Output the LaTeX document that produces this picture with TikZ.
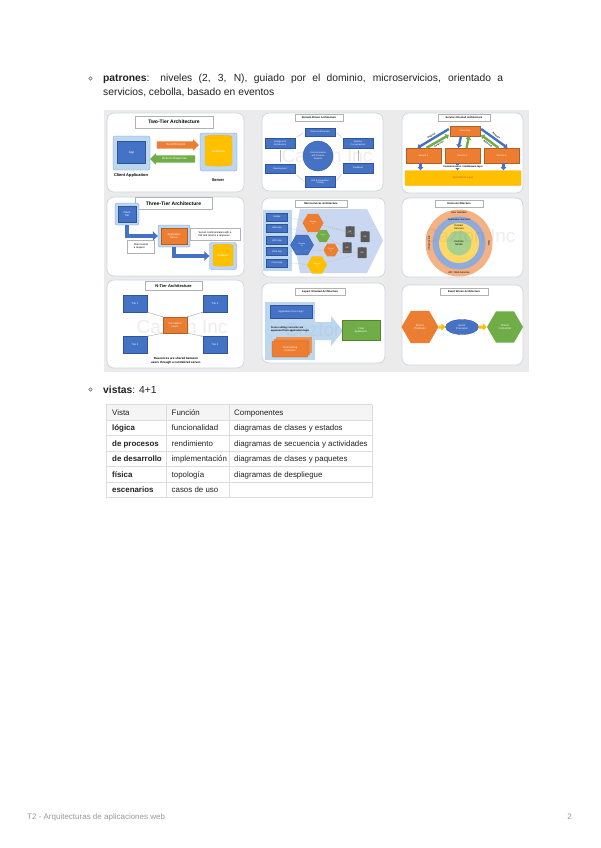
\documentclass[tikz,border=0pt]{standalone}
\usepackage{fontspec}
\setmainfont{Liberation Sans}
\usetikzlibrary{shapes.geometric,shapes.arrows,arrows.meta,calc}
\definecolor{blueA}{HTML}{4472C4}
\definecolor{blueD}{HTML}{2F5597}
\definecolor{lblue}{HTML}{BDD7EE}
\definecolor{pblue}{HTML}{C9D8F0}
\definecolor{orangeC}{HTML}{ED7D31}
\definecolor{yellowC}{HTML}{FFC000}
\definecolor{greenC}{HTML}{70AD47}
\definecolor{panelb}{HTML}{CCD5E2}
\definecolor{cbg}{HTML}{EBEBEB}
\definecolor{onionO}{HTML}{F4B183}
\definecolor{onionB}{HTML}{8FAADC}
\definecolor{onionY}{HTML}{FFD966}
\definecolor{onionG}{HTML}{A9D18E}
\definecolor{dbgray}{HTML}{595959}
\definecolor{tline}{HTML}{DDDDDD}
\definecolor{thead}{HTML}{F5F5F5}
\definecolor{txt}{HTML}{222222}
\definecolor{foot}{HTML}{9A9A9A}
\newcommand\fsz[2]{\fontsize{#1}{#2}\selectfont}
\begin{document}
\begin{tikzpicture}[x=1pt,y=-1pt,
 panel/.style={draw=panelb, fill=white, rounded corners=7pt, line width=0.7pt},
 ttl/.style={draw=gray!60, fill=white, line width=0.3pt, inner sep=0.6pt, font=\bfseries\fsz{2.6}{3.1}},
 bx/.style={fill=blueA, draw=blueD, line width=0.3pt, text=white, align=center, inner sep=0.4pt, font=\fsz{2.3}{2.8}},
 ob/.style={bx, fill=orangeC, draw=orangeC!75!black},
 gb/.style={bx, fill=greenC, draw=greenC!75!black},
 frm/.style={fill=lblue, draw=lblue!70!blue, rounded corners=2pt, line width=0.3pt},
 conn/.style={draw=gray!60, line width=0.3pt},
 dconn/.style={draw=gray!60, line width=0.3pt, dash pattern=on 1pt off 1pt},
 fat/.style={line width=2.4pt, -{Triangle[length=3.2pt,width=5.5pt]}},
 hex/.style={regular polygon, regular polygon sides=6, inner sep=0pt, text=white, align=center, font=\fsz{2}{2.4}},
 dbs/.style={cylinder, shape border rotate=90, aspect=0.25, inner sep=0pt},
 wm/.style={text=gray, opacity=0.14, font=\fsz{19}{21}},
 body/.style={anchor=base west, inner sep=0pt, font=\fsz{10.3}{12}, text=txt},
 tcell/.style={anchor=base west, font=\fsz{7.9}{9.5}, text=txt, inner sep=0pt},
]
\useasboundingbox (0,0) rectangle (600,848);
\fill[white] (0,0) rectangle (600,848);

% ---------- text ----------
\draw[gray!80!black, line width=0.6pt] (90.5,78.5) circle (1.7);
\node[body] (l1) at (103,81.5) {\makebox[400pt][s]{\textbf{patrones}: niveles (2, 3, N), guiado por el dominio, microservicios, orientado a}};
\node[body] (l2) at (103,95.5) {servicios, cebolla, basado en eventos};

% ---------- collage ----------
\fill[cbg] (104,110) rectangle (529,372);

% Panel 1: Two-Tier
\draw[panel] (107,113) rectangle (244,192);
\node[ttl, minimum width=78pt, minimum height=12pt, font=\bfseries\fsz{5}{6}] (t1) at (174,122) {Two-Tier Architecture};
\node[frm, minimum width=37pt, minimum height=34pt] (appf) at (131.5,153) {};
\node[bx, minimum width=28pt, minimum height=22pt, font=\fsz{3}{3.6}] (app) at (131.5,152.5) {App};
\node[font=\bfseries\fsz{4}{5}] (cal) at (131,175.5) {Client Application};
\node[single arrow, fill=orangeC, text=white, font=\fsz{3}{3.5}, minimum height=42pt, inner xsep=1pt, inner ysep=2pt, single arrow head extend=2pt] (sr) at (176,145) {Send Request};
\node[single arrow, shape border rotate=180, fill=greenC, text=white, font=\fsz{3}{3.5}, minimum height=45pt, inner xsep=1pt, inner ysep=2pt, single arrow head extend=2pt] (rr) at (174.5,159) {Returns Response};
\node[frm, minimum width=37pt, minimum height=38pt] (srvf) at (218.5,152) {};
\node[dbs, fill=yellowC, draw=orange!60!yellow, minimum width=27pt, minimum height=31pt, text=white, font=\fsz{3}{3.5}] (db1) at (218.5,151.5) {Database};
\node[font=\bfseries\fsz{4}{5}] (srvl) at (218,180) {Server};

% Panel 2: Domain driven
\draw[panel] (262,113) rectangle (383,191);
\node[ttl, minimum width=48pt, minimum height=7pt] (t2) at (319,118) {Domain Driven Architecture};
\node[bx, minimum width=30pt, minimum height=8pt] (d1) at (320,132) {Vision and Domain};
\node[bx, minimum width=30pt, minimum height=10pt] (d2) at (280,143) {Design and\\Architecture};
\node[bx, minimum width=30pt, minimum height=10pt] (d3) at (358,143) {Iterative\\Conversations};
\node[bx, minimum width=30pt, minimum height=9pt] (d4) at (280,169) {Development};
\node[bx, minimum width=30pt, minimum height=10pt] (d5) at (358,168) {Feedback};
\node[bx, minimum width=30pt, minimum height=11pt] (d6) at (320,182) {Unit \& Integration\\Testing};
\node[bx, circle, minimum size=30pt] (dc) at (318,156) {Communication\\with Domain\\Experts};
\draw[conn, shorten <=2pt, shorten >=2pt] (d2.north east) -- (d1.west);
\draw[conn, shorten <=2pt, shorten >=2pt] (d1.east) -- (d3.north west);
\draw[conn, shorten <=2pt, shorten >=2pt] (d3.south) -- (d5.north);
\draw[conn, shorten <=2pt, shorten >=2pt] (d5.south west) -- (d6.east);
\draw[conn, shorten <=2pt, shorten >=2pt] (d6.west) -- (d4.south east);
\draw[conn, shorten <=2pt, shorten >=2pt] (d4.north) -- (d2.south);
\node[wm] (wm2) at (327,156) {Cazton Inc};

% Panel 3: Service oriented
\draw[panel] (402,113) rectangle (523,193);
\node[ttl, minimum width=52pt, minimum height=7pt] (t3) at (464,118) {Service Oriented Architecture};
\node[ob, minimum width=30pt, minimum height=10pt] (cap) at (465,131) {Client App};
\node[ob, minimum width=35pt, minimum height=15pt] (s1) at (423.5,155.5) {Service 1};
\node[ob, minimum width=35pt, minimum height=15pt] (s2) at (462.5,155.5) {Service 2};
\node[ob, minimum width=35pt, minimum height=15pt] (s3) at (501.5,155.5) {Service 3};
\node[fill=yellowC, draw=yellowC!80!orange, minimum width=116pt, minimum height=15pt, rounded corners=1pt, font=\fsz{2.6}{3}, text=orangeC!80!black] (opl) at (463,178) {Operational Layer};
\draw[fat, blueA] ([xshift=-4pt]cap.south) -- ([xshift=-4pt]s2.north);
\draw[fat, greenC] ([xshift=4pt]s2.north) -- ([xshift=4pt]cap.south);
\draw[fat, blueA] ($(cap.west)+(-1,-2)$) -- node[sloped, above=0.6pt, font=\bfseries\fsz{2.2}{2.6}, text=black, fill=white, inner sep=0.3pt] (rq1) {Request} ($(s1.north)+(-6,0)$);
\draw[fat, greenC] ($(s1.north)+(3,0)$) -- node[sloped, below=0.6pt, font=\bfseries\fsz{2.2}{2.6}, text=black, fill=white, inner sep=0.3pt] (rs1) {Response} ($(cap.west)+(-1,4)$);
\draw[fat, blueA] ($(cap.east)+(1,-2)$) -- node[sloped, above=0.6pt, font=\bfseries\fsz{2.2}{2.6}, text=black, fill=white, inner sep=0.3pt] (rq2) {Request} ($(s3.north)+(6,0)$);
\draw[fat, greenC] ($(s3.north)+(-3,0)$) -- node[sloped, below=0.6pt, font=\bfseries\fsz{2.2}{2.6}, text=black, fill=white, inner sep=0.3pt] (rs2) {Response} ($(cap.east)+(1,4)$);
\draw[fat, blueA] ([xshift=-3pt]s1.south) -- ([xshift=-3pt]s1.south |- opl.north);
\draw[fat, blueA] ([xshift=-5pt]s2.south) -- ([xshift=-5pt]s2.south |- opl.north);
\draw[fat, blueA] ([xshift=2pt]s3.south) -- ([xshift=2pt]s3.south |- opl.north);
\node[fill=white, inner sep=0.4pt, font=\bfseries\fsz{2.4}{2.9}] (cml) at (463,166.8) {Communication / middleware layer};

% Panel 4: Three-Tier
\draw[panel] (107,197) rectangle (244,276);
\node[ttl, minimum width=77pt, minimum height=12pt, font=\bfseries\fsz{5}{6}] (t4) at (173.5,203.5) {Three-Tier Architecture};
\node[frm, minimum width=24pt, minimum height=22pt] (ctf) at (127,214) {};
\node[bx, minimum width=18pt, minimum height=16pt, font=\fsz{2.6}{3.1}] (ct) at (127,214) {Client\\Tier};
\node[frm, minimum width=32pt, minimum height=22pt] (asf) at (174,236) {};
\node[ob, minimum width=26pt, minimum height=16pt, font=\fsz{2.6}{3.1}] (as) at (174,236) {Application\\Server};
\node[frm, minimum width=27pt, minimum height=27pt] (dbf) at (223,256) {};
\node[dbs, fill=yellowC, draw=orange!60!yellow, minimum width=20pt, minimum height=22pt, text=white, font=\fsz{2.6}{3}] (db2) at (223,256) {Database};
\draw[line width=4pt, blueA, -{Triangle[length=5pt,width=9pt]}] (ctf.south) |- (asf.west);
\draw[line width=4pt, blueA, -{Triangle[length=5pt,width=9pt]}] (asf.south) |- (dbf.west);
\node[draw=gray!60, fill=white, line width=0.3pt, minimum width=50pt, minimum height=12pt, align=left, inner sep=0.8pt, font=\fsz{2.6}{3.2}] (tb1) at (215,234) {Server communicates with a\\DB and returns a response};
\node[draw=gray!60, fill=white, line width=0.3pt, minimum width=27pt, minimum height=13pt, align=left, inner sep=0.8pt, font=\fsz{2.6}{3.2}] (tb2) at (141,246.5) {Client sends\\a request};

% Panel 5: Microservices
\draw[panel] (262,198) rectangle (385,277);
\node[ttl, minimum width=52pt, minimum height=7pt] (t5) at (321,203.5) {Microservices Architecture};
\fill[pblue] (300,209) -- (367,209) -- (383,240.5) -- (367,273) -- (300,273) -- (294,240.5) -- cycle;
\fill[lblue] (263,210) rectangle (292,271);
\node[bx, minimum width=21pt, minimum height=8pt] (m1) at (277,217) {Mobile};
\node[bx, minimum width=21pt, minimum height=8pt] (m2) at (277,228) {Web App};
\node[bx, minimum width=21pt, minimum height=8pt] (m3) at (277,240.5) {ERP App};
\node[bx, minimum width=21pt, minimum height=8pt] (m4) at (277,251.5) {CRM App};
\node[bx, minimum width=21pt, minimum height=8pt] (m5) at (277,263) {Cloud App};
\node[hex, fill=orangeC, minimum size=21pt] (hA) at (313,223) {Service\\A};
\node[hex, fill=blueA, draw=blueD, line width=0.3pt, minimum size=23pt] (hB) at (302,245) {Service\\B};
\node[hex, fill=greenC, minimum size=14pt, font=\fsz{1.6}{1.9}] (hC) at (323,236) {Service\\C};
\node[hex, fill=orangeC, minimum size=15pt, font=\fsz{1.7}{2}] (hD) at (331,250) {Service\\D};
\node[hex, fill=yellowC, minimum size=20pt] (hE) at (317,265) {Service\\E};
\node[dbs, fill=dbgray, minimum width=9pt, minimum height=11pt, text=white, font=\fsz{2}{2.4}] (db3) at (350,232) {DB};
\node[dbs, fill=dbgray, minimum width=9pt, minimum height=11pt, text=white, font=\fsz{2}{2.4}] (db4) at (365,237) {DB};
\node[dbs, fill=dbgray, minimum width=9pt, minimum height=11pt, text=white, font=\fsz{2}{2.4}] (db5) at (347,248) {DB};
\node[dbs, fill=dbgray, minimum width=9pt, minimum height=11pt, text=white, font=\fsz{2}{2.4}] (db6) at (362,253) {DB};
\draw[dconn] (m1.east) -- (hA);
\draw[dconn] (m2.east) -- (hC);
\draw[dconn] (m3.east) -- (hB);
\draw[dconn] (m4.east) -- (hD);
\draw[dconn] (m5.east) -- (hE);
\draw[dconn] (hA) -- (db3);
\draw[dconn] (hA) -- (db4);
\draw[dconn] (hC) -- (db5);
\draw[dconn] (hD) -- (db6);
\draw[dconn] (hE) -- (db6);

% Panel 6: Onion
\draw[panel] (402,198) rectangle (523,277);
\node[ttl, minimum width=48pt, minimum height=7pt] (t6) at (459,203.5) {Onion Architecture};
\node[circle, fill=onionO, minimum size=67pt, inner sep=0pt] (o1) at (459,243) {};
\node[circle, fill=onionB, minimum size=53pt, inner sep=0pt] (o2) at (459,243) {};
\node[circle, fill=onionY, minimum size=40pt, inner sep=0pt] (o3) at (459,243) {};
\node[circle, fill=onionG, minimum size=25pt, inner sep=0pt, align=center, font=\fsz{2.6}{3.1}] (o4) at (459,243) {Domain\\Model};
\node[font=\fsz{2.5}{3}, inner sep=0pt] (ol1) at (459,213) {User Interface};
\node[font=\fsz{2.5}{3}, inner sep=0pt] (ol2) at (459,219.8) {Application Services};
\node[font=\fsz{2.5}{3}, inner sep=0pt, align=center] (ol3) at (459,227.5) {Domain\\Services};
\node[font=\fsz{2.5}{3}, inner sep=0pt] (ol4) at (459,272.5) {API / Web Services};
\node[font=\fsz{2.5}{3}, inner sep=0pt, rotate=90] (ol5) at (429,243) {Infrastructure};
\node[font=\fsz{2.5}{3}, inner sep=0pt, rotate=-90] (ol6) at (489,243) {Tests};
\node[wm] (wm6) at (470,236) {Cazton Inc};

% Panel 7: N-Tier
\draw[panel] (107,280) rectangle (244,368);
\node[ttl, minimum width=57pt, minimum height=9pt, font=\bfseries\fsz{4}{5}] (t7) at (173.5,286) {N-Tier Architecture};
\node[bx, minimum width=24pt, minimum height=17pt, font=\fsz{2.6}{3.1}] (n1) at (135,303.5) {Tier 1};
\node[bx, minimum width=24pt, minimum height=17pt, font=\fsz{2.6}{3.1}] (n3) at (215,303.5) {Tier 3};
\node[bx, minimum width=24pt, minimum height=17pt, font=\fsz{2.6}{3.1}] (n2) at (135,345) {Tier 2};
\node[bx, minimum width=24pt, minimum height=17pt, font=\fsz{2.6}{3.1}] (n4) at (215,345) {Tier 4};
\node[ob, minimum width=24pt, minimum height=16pt, font=\fsz{2.6}{3.1}] (cs) at (175,325) {Centralized\\server};
\draw[conn, draw=gray!80, {Stealth[length=1.5pt]}-{Stealth[length=1.5pt]}] (cs.north west) -- (n1.south east);
\draw[conn, draw=gray!80, {Stealth[length=1.5pt]}-{Stealth[length=1.5pt]}] (cs.north east) -- (n3.south west);
\draw[conn, draw=gray!80, {Stealth[length=1.5pt]}-{Stealth[length=1.5pt]}] (cs.south west) -- (n2.north east);
\draw[conn, draw=gray!80, {Stealth[length=1.5pt]}-{Stealth[length=1.5pt]}] (cs.south east) -- (n4.north west);
\node[font=\bfseries\fsz{3}{3.8}, align=center] (nt) at (176,361) {Resources are shared between\\users through a centralized server.};
\node[wm] (wm7) at (182,327) {Cazton Inc};

% Panel 8: Aspect oriented
\draw[panel] (262,283) rectangle (385,363);
\node[ttl, minimum width=50pt, minimum height=7pt] (t8) at (320,291.5) {Aspect Oriented Architecture};
\fill[lblue] (265,302) rectangle (315,360);
\node[bx, minimum width=42pt, minimum height=13pt, font=\fsz{2.5}{3}] (acl) at (291,311.5) {Application Core Logic};
\node[font=\bfseries\fsz{2.5}{3}, align=left, inner sep=0pt] (acc) at (290,329) {Cross-cutting concerns are\\separated from application logic};
\fill[orangeC!85!white] (276,337) rectangle (312,353);
\fill[orangeC!92!white] (274,339) rectangle (310,355);
\node[ob, minimum width=36pt, minimum height=16pt, font=\fsz{2.6}{3.1}, rounded corners=1pt] (ccc) at (290,349) {Crosscutting\\Concerns};
\fill[lblue] (315,322) -- (331,322) -- (331,316) -- (343,331) -- (331,346) -- (331,340) -- (315,340) -- cycle;
\node[gb, minimum width=38pt, minimum height=20pt, font=\fsz{2.6}{3.1}] (fap) at (361,330) {Final\\Application};
\node[wm, opacity=0.08] (wm8) at (330,330) {Cazton Inc};

% Panel 9: Event driven
\draw[panel] (402,285) rectangle (523,365);
\node[ttl, minimum width=48pt, minimum height=7pt] (t9) at (464,291.5) {Event Driven Architecture};
\node[hex, fill=orangeC, minimum size=37pt, font=\fsz{2.8}{3.3}] (evp) at (420,327) {Event\\Producer};
\node[ellipse, fill=blueA, draw=blueD, line width=0.3pt, minimum width=33pt, minimum height=15pt, inner sep=0pt, text=white, align=center, font=\fsz{2.6}{3.1}] (evr) at (462,327) {Event\\Processor};
\node[hex, fill=greenC, minimum size=36pt, font=\fsz{2.8}{3.3}] (evc) at (505,327) {Event\\Consumer};
\draw[line width=3pt, yellowC, -{Triangle[length=4pt,width=7pt]}] (evp) -- (evr);
\draw[line width=3pt, yellowC, -{Triangle[length=4pt,width=7pt]}] (evr) -- (evc);
\node[wm, opacity=0.08] (wm9) at (462,330) {Cazton Inc};

% ---------- vistas ----------
\draw[gray!80!black, line width=0.6pt] (90.5,389.5) circle (1.7);
\node[body] (l3) at (103,393) {\textbf{vistas}: 4+1};

\fill[thead] (106,404.5) rectangle (372,420);
\foreach \yy in {404.5,420,435.5,451,466.5,482,497.5} \draw[tline, line width=0.6pt] (106,\yy) -- (372,\yy);
\foreach \xx in {106,166,229,372} \draw[tline, line width=0.6pt] (\xx,404.5) -- (\xx,497.5);

\node[tcell] (h1) at (112,415) {Vista};
\node[tcell] (h2) at (171.5,415) {Función};
\node[tcell] (h3) at (234,415) {Componentes};
\node[tcell, font=\bfseries\fsz{7.9}{9.5}] (a1) at (112,430.5) {lógica};
\node[tcell] (a2) at (171.5,430.5) {funcionalidad};
\node[tcell] (a3) at (234,430.5) {diagramas de clases y estados};
\node[tcell, font=\bfseries\fsz{7.9}{9.5}] (b1) at (112,446) {de procesos};
\node[tcell] (b2) at (171.5,446) {rendimiento};
\node[tcell] (b3) at (234,446) {diagramas de secuencia y actividades};
\node[tcell, font=\bfseries\fsz{7.9}{9.5}] (c1) at (112,461.5) {de desarrollo};
\node[tcell] (c2) at (171.5,461.5) {implementación};
\node[tcell] (c3) at (234,461.5) {diagramas de clases y paquetes};
\node[tcell, font=\bfseries\fsz{7.9}{9.5}] (e1) at (112,477) {física};
\node[tcell] (e2) at (171.5,477) {topología};
\node[tcell] (e3) at (234,477) {diagramas de despliegue};
\node[tcell, font=\bfseries\fsz{7.9}{9.5}] (f1) at (112,492.5) {escenarios};
\node[tcell] (f2) at (171.5,492.5) {casos de uso};

% ---------- footer ----------
\node[anchor=base west, inner sep=0pt, font=\fsz{8}{9}, text=foot] (ft) at (27,819) {T2 - Arquitecturas de aplicaciones web};
\node[anchor=base east, inner sep=0pt, font=\fsz{8}{9}, text=foot] (pg) at (572,819) {2};
\end{tikzpicture}
\end{document}
